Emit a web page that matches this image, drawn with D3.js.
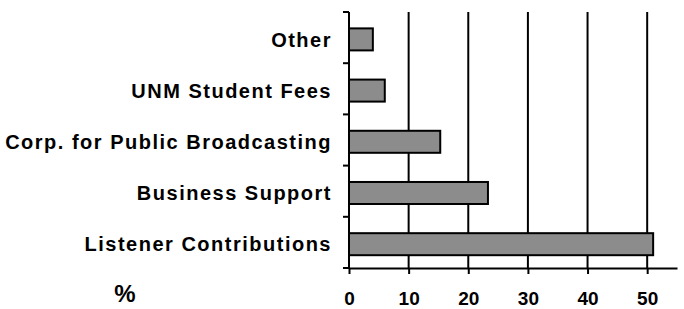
<!DOCTYPE html>
<html>
<head>
<meta charset="utf-8">
<script src="https://cdn.jsdelivr.net/npm/d3@7"></script>
<style>
  body { margin: 0; background: #fff; overflow: hidden; }
  svg { display: block; }
</style>
</head>
<body>
<div id="chart"></div>
<script>
const width = 684;
const height = 309;

// funding sources, top to bottom
const categories = ["Other", "UNM Student Fees", "Corp. for Public Broadcasting", "Business Support", "Listener Contributions"];
const values = [4, 6, 15.3, 23.3, 51];
const xTicks = [0, 10, 20, 30, 40, 50];
const unitLabel = "%";

const x = d3.scaleLinear().domain([0, 55]).range([349, 677]);
const y = d3.scaleBand().domain(categories).range([12, 268]);

const svg = d3.select("#chart").append("svg")
    .attr("width", width)
    .attr("height", height);

// vertical grid lines
svg.append("g").selectAll("line")
    .data(xTicks.slice(1))
    .enter()
    .append("line")
    .attr("x1", d => x(d)).attr("x2", d => x(d))
    .attr("y1", 12).attr("y2", 268)
    .attr("stroke", "#000")
    .attr("stroke-width", 2);

// bars
svg.append("g").selectAll("rect")
    .data(categories)
    .enter()
    .append("rect")
    .attr("x", x(0))
    .attr("y", d => y(d) + y.bandwidth() * 0.32)
    .attr("width", (d, i) => x(values[i]) - x(0))
    .attr("height", y.bandwidth() * 0.43)
    .attr("fill", "#8c8c8c")
    .attr("stroke", "#000")
    .attr("stroke-width", 2);

// x axis
const xAxis = svg.append("g")
    .attr("transform", "translate(0,268)")
    .call(d3.axisBottom(x).tickValues(xTicks).tickSize(6).tickPadding(18).tickSizeOuter(0));
xAxis.select(".domain").attr("stroke-width", 2);
xAxis.selectAll(".tick line").attr("stroke-width", 2);
xAxis.selectAll(".tick text")
    .attr("dy", "0.7em")
    .attr("font-family", "Liberation Sans, Arial, sans-serif")
    .attr("font-size", 19)
    .attr("font-weight", "bold")
    .attr("fill", "#000");

// y axis line and category separators
svg.append("line")
    .attr("x1", x(0)).attr("x2", x(0))
    .attr("y1", 12).attr("y2", 268)
    .attr("stroke", "#000").attr("stroke-width", 2);
const bounds = categories.map(c => y(c)).concat([y.range()[1]]);
svg.append("g").selectAll("line")
    .data(bounds)
    .enter()
    .append("line")
    .attr("x1", x(0) - 6).attr("x2", x(0))
    .attr("y1", d => d).attr("y2", d => d)
    .attr("stroke", "#000").attr("stroke-width", 2);

// category labels
svg.append("g").selectAll("text")
    .data(categories)
    .enter()
    .append("text")
    .attr("x", 332)
    .attr("y", d => y(d) + y.bandwidth() * 0.535)
    .attr("dy", "0.36em")
    .attr("text-anchor", "end")
    .attr("font-family", "Liberation Sans, Arial, sans-serif")
    .attr("font-size", 20)
    .attr("font-weight", "bold")
    .style("letter-spacing", "1.5px")
    .text(d => d);

// unit label
svg.append("text")
    .attr("x", 125)
    .attr("y", 302)
    .attr("text-anchor", "middle")
    .attr("font-family", "Liberation Sans, Arial, sans-serif")
    .attr("font-size", 24)
    .attr("font-weight", "bold")
    .text(unitLabel);
</script>
</body>
</html>
